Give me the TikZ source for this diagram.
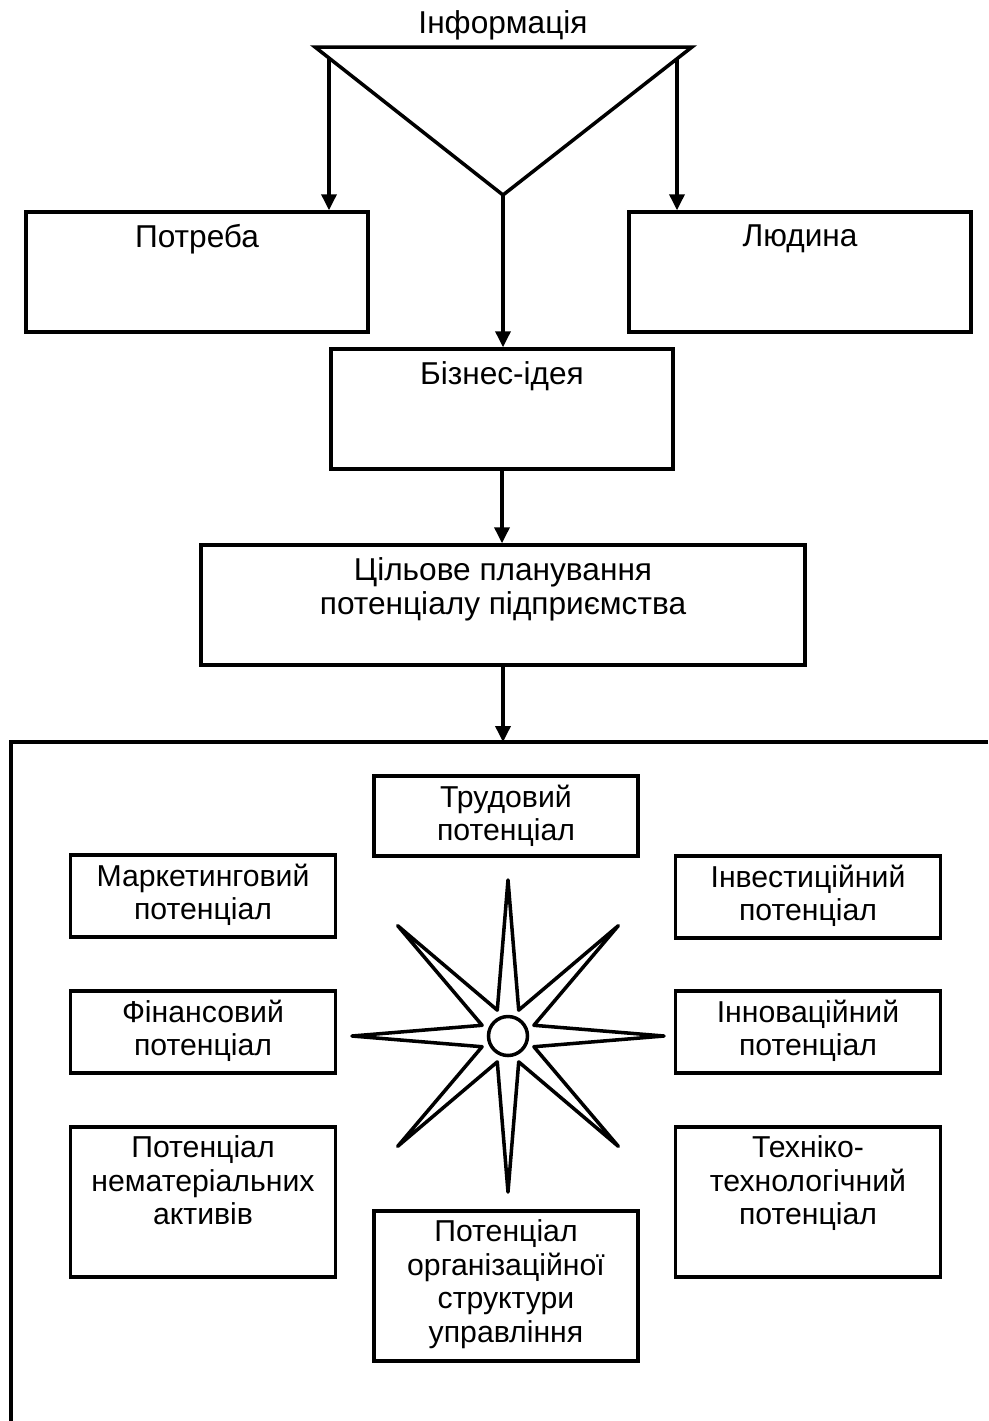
\documentclass[tikz,border=0pt]{standalone}
\usepackage{fontspec}
\setmainfont{Liberation Sans}
\usetikzlibrary{positioning,arrows.meta}

\begin{document}
\begin{tikzpicture}[x=0.02cm, y=-0.02cm,
        font=\fontsize{18}{19.5}\selectfont,
        line width=2pt,
        box/.style={draw, minimum width=6.84cm, minimum height=2.4cm, inner sep=0pt},
        pbox/.style={box, minimum width=5.3cm, minimum height=1.64cm},
        tallbox/.style={pbox, minimum height=3cm},
        txt/.style={align=center, inner sep=0pt},
        ptxt/.style={txt, font=\fontsize{17.2}{19}\selectfont},
        arr/.style={-{Triangle[length=0.32cm, width=0.3cm]}}]
        \useasboundingbox (0,0) rectangle (988,1421);

        % funnel of information
        \node[txt] (info) at (503,25) {Інформація};
        \coordinate (tl) at (315,47);
        \coordinate (tr) at (692,47);
        \coordinate (apex) at (503,195);
        \draw[line join=miter] (tl) -- (tr) -- (apex) -- cycle;
        \coordinate (la) at (329,58);
        \coordinate (ra) at (677,58);

        \node[box] (potreba) at (197,272) {};
        \node[txt, below=0.25cm of potreba.north] (potreba-t) {Потреба};
        \node[box] (ludyna) at (800,272) {};
        \node[txt, below=0.25cm of ludyna.north] (ludyna-t) {Людина};
        \node[box] (ideya) at (502,409) {};
        \node[txt, below=0.25cm of ideya.north] (ideya-t) {Бізнес-ідея};
        \node[box, minimum width=12.08cm] (plan) at (503,605) {};
        \node[txt, below=0.25cm of plan.north] (plan-t) {Цільове планування\\потенціалу підприємства};

        \draw[arr] (la) -- (la |- potreba.north);
        \draw[arr] (ra) -- (ra |- ludyna.north);
        \draw[arr] (apex) -- (apex |- ideya.north);
        \draw[arr] (ideya.south) -- (ideya.south |- plan.north);

        % frame of the enterprise potential
        \coordinate (frame) at (503,742);
        \draw (988,742) -- (11,742) -- (11,1421);
        \draw[arr] (plan) -- (frame);

        \node[pbox, minimum width=5.28cm, minimum height=1.6cm] (trud) at (506,816) {};
        \node[ptxt, below=0.18cm of trud.north] (trud-t) {Трудовий\\потенціал};
        \node[pbox] (market) at (203,896) {};
        \node[ptxt, below=0.18cm of market.north] (market-t) {Маркетинговий\\потенціал};
        \node[pbox] (invest) at (808,897) {};
        \node[ptxt, below=0.18cm of invest.north] (invest-t) {Інвестиційний\\потенціал};
        \node[pbox] (fin) at (203,1032) {};
        \node[ptxt, below=0.18cm of fin.north] (fin-t) {Фінансовий\\потенціал};
        \node[pbox] (innov) at (808,1032) {};
        \node[ptxt, below=0.18cm of innov.north] (innov-t) {Інноваційний\\потенціал};
        \node[tallbox] (nemat) at (203,1202) {};
        \node[ptxt, below=0.18cm of nemat.north] (nemat-t) {Потенціал\\нематеріальних\\активів};
        \node[tallbox] (tekhn) at (808,1202) {};
        \node[ptxt, below=0.18cm of tekhn.north] (tekhn-t) {Техніко-\\технологічний\\потенціал};
        \node[tallbox, minimum width=5.28cm] (org) at (506,1286) {};
        \node[ptxt, below=0.18cm of org.north] (org-t) {Потенціал\\організаційної\\структури\\управління};

        % star
        \begin{scope}[shift={(508,1036)}]
            \draw[line join=round] (22.5:28) \foreach \a in {45,90,...,360} {-- (\a:156) -- (\a+22.5:28)} -- cycle;
            \node[draw, circle, minimum size=0.78cm, inner sep=0pt] (hub) at (0,0) {};
        \end{scope}
\end{tikzpicture}
\end{document}
